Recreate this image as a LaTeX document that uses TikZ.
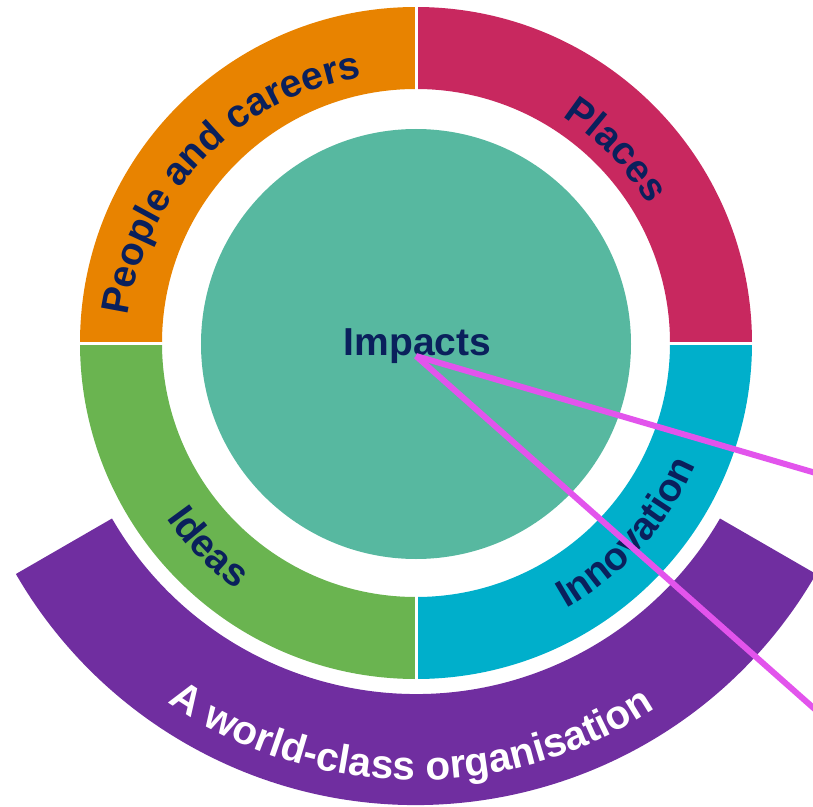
\documentclass[tikz,border=0pt]{standalone}
\usepackage{fontspec}
\setmainfont{Liberation Sans}
\usetikzlibrary{decorations.text}
\definecolor{ringorange}{RGB}{232,131,0}
\definecolor{ringcrimson}{RGB}{200,40,95}
\definecolor{ringgreen}{RGB}{106,180,80}
\definecolor{ringcyan}{RGB}{0,175,203}
\definecolor{coreteal}{RGB}{87,184,160}
\definecolor{bandpurple}{RGB}{112,46,160}
\definecolor{navytext}{RGB}{10,32,92}
\definecolor{pinkline}{RGB}{226,84,236}
\newcommand{\ringfont}{\bfseries\fontsize{39pt}{39pt}\selectfont}
\newcommand{\bandfont}{\bfseries\fontsize{40.5pt}{40.5pt}\selectfont}
\newcommand{\annsector}[5]{\fill[#1] (#2:#4) arc[start angle=#2,end angle=#3,radius=#4] -- (#3:#5) arc[start angle=#3,end angle=#2,radius=#5] -- cycle;}
\tikzset{
  ringtext/.style={decorate, decoration={text along path, text align=center, text color=navytext, text={|\ringfont|#1}}},
  bandtext/.style={decorate, decoration={text along path, text align=center, text color=white, text={|\bandfont|#1}}},
  gapline/.style={white, line width=3pt},
  pointer/.style={pinkline, line width=6pt}
}
\begin{document}
\begin{tikzpicture}
\useasboundingbox (-416pt,-463pt) rectangle (397pt,343pt);
% outer band
\annsector{bandpurple}{210}{330}{351pt}{462pt}
% ring quadrants
\annsector{ringcrimson}{0}{90}{254pt}{336pt}
\annsector{ringorange}{90}{180}{254pt}{336pt}
\annsector{ringgreen}{180}{270}{254pt}{336pt}
\annsector{ringcyan}{270}{360}{254pt}{336pt}
\draw[gapline] (0pt,250pt) -- (0pt,340pt);
\draw[gapline] (0pt,-250pt) -- (0pt,-340pt);
\draw[gapline] (250pt,0pt) -- (340pt,0pt);
\draw[gapline] (-250pt,0pt) -- (-340pt,0pt);
% core
\node[circle, fill=coreteal, minimum size=430pt, inner sep=0pt] (core) at (0pt,-1pt) {};
\node[anchor=base, text=navytext, font=\ringfont, inner sep=0pt] (impacts) at (1.5pt,-12pt) {Impacts};
% ring labels
\path[ringtext={People and careers}] ([shift={(180.5:280pt)}]-10.7pt,-11.3pt) arc[start angle=180.5,end angle=90.5,radius=280pt];
\path[ringtext={Places}] (74:270pt) arc[start angle=74,end angle=14,radius=270pt];
\path[ringtext={Ideas}] (204.5:305pt) arc[start angle=204.5,end angle=244.5,radius=305pt];
\path[ringtext={Innovation}] (288:305pt) arc[start angle=288,end angle=348,radius=305pt];
\path[bandtext={A world-class organisation}] (224.3:437pt) arc[start angle=224.3,end angle=314.3,radius=437pt];
% pointer lines
\coordinate (src) at (0pt,-13pt);
\coordinate (endA) at (410pt,-133pt);
\coordinate (endB) at (410pt,-376pt);
\draw[pointer] (src) -- (endA);
\draw[pointer] (src) -- (endB);
\end{tikzpicture}
\end{document}
